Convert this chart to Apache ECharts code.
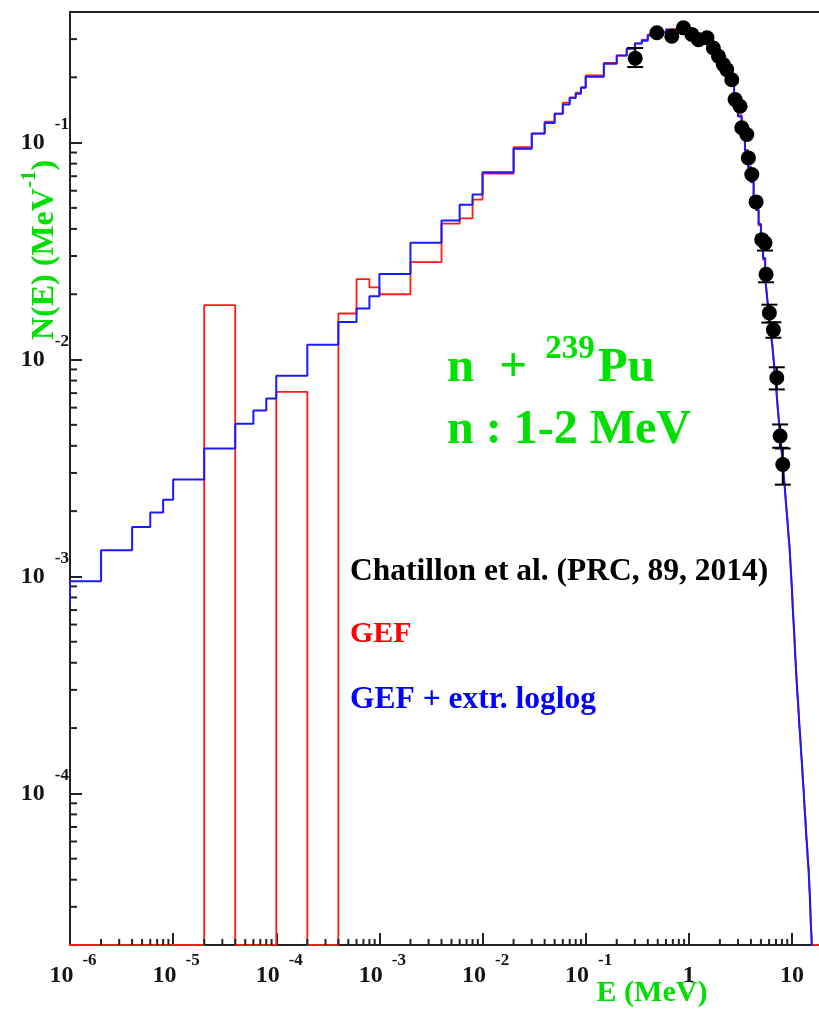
<!DOCTYPE html>
<html>
<head>
<meta charset="utf-8">
<script src="https://cdn.jsdelivr.net/npm/echarts@6/dist/echarts.min.js"></script>
<style>
  html, body { margin: 0; padding: 0; background: #ffffff; }
  #chart { width: 819px; height: 1010px; }
</style>
</head>
<body>
<div id="chart"></div>
<script>
// Axis ranges (MeV on x, MeV^-1 on y)
const X_MIN = 1e-6, X_MAX = 20;
const Y_MIN = 2e-5, Y_MAX = 0.4;

// Histogram bin edges in MeV (shared by both GEF spectra)
const binEdges = [
  8e-7, 1e-6, 2e-6, 4e-6, 6e-6, 8e-6,
  1e-5, 2e-5, 4e-5, 6e-5, 8e-5,
  1e-4, 2e-4, 4e-4, 6e-4, 8e-4,
  1e-3, 2e-3, 4e-3, 6e-3, 8e-3,
  0.01, 0.02, 0.03, 0.04, 0.05, 0.06, 0.07, 0.08, 0.09,
  0.1, 0.15, 0.2, 0.25, 0.3, 0.35, 0.4,
  0.5, 0.6, 0.7, 0.8, 0.9, 1.0, 1.1, 1.2, 1.3, 1.4, 1.5, 1.6, 1.7, 1.8, 1.9, 2.0,
  2.25, 2.5, 2.75, 3, 3.25, 3.5, 3.75, 4, 4.25, 4.5, 4.75, 5,
  5.25, 5.5, 5.75, 6, 6.25, 6.5, 6.75, 7, 7.25, 7.5, 7.75, 8,
  8.25, 8.5, 8.75, 9, 9.25, 9.5, 9.75, 10, 10.25, 10.5, 10.75, 11,
  11.25, 11.5, 11.75, 12, 12.25, 12.5, 12.75, 13, 13.25, 13.5, 13.75, 14,
  14.25, 14.5, 14.75, 15, 15.25, 15.5, 15.75, 16,
  20
];

// GEF spectrum (red); empty bins are 0
const gefValues = [
  0, 0, 0, 0, 0, 0,
  0, 1.78e-2, 0, 0, 0,
  7.1e-3, 0, 1.63e-2, 2.35e-2, 2.15e-2,
  2.0e-2, 2.81e-2, 4.23e-2, 4.47e-2, 5.46e-2,
  7.19e-2, 9.53e-2, 0.110, 0.125, 0.136, 0.153, 0.161, 0.170, 0.180,
  0.204, 0.233, 0.252, 0.272, 0.287, 0.298,
  0.315, 0.324, 0.333, 0.336, 0.340, 0.336, 0.332, 0.329, 0.316, 0.312, 0.298, 0.292, 0.277, 0.269, 0.254, 0.246,
  0.236, 0.211, 0.187, 0.155, 0.134, 0.108, 0.0925, 0.0765,
  0.0665, 0.0558, 0.0495, 0.0415, 0.0368, 0.0288, 0.0243, 0.0189,
  0.0164, 0.0130, 0.0114, 0.0090, 0.00772, 0.00605, 0.00518, 0.00421,
  0.00371, 0.00301, 0.00266, 0.00214, 0.00190, 0.00153, 0.00137, 0.00105,
  0.00089, 0.00066, 0.00057, 0.00043, 0.000366, 0.000291, 0.000262, 0.000208,
  0.000190, 0.000153, 0.000141, 0.000114, 0.000105, 0.000084, 0.000078, 0.000063,
  0.000059, 0.000048, 0.000046, 0.000036, 0.000033, 0.000024, 0.000022, 0.000016,
  0
];

// GEF + log-log extrapolation (blue); null = no bin drawn
const gefLoglogValues = [
  7.4e-4, 9.5e-4, 1.32e-3, 1.69e-3, 1.97e-3, 2.26e-3,
  2.80e-3, 3.89e-3, 5.06e-3, 5.82e-3, 6.61e-3,
  8.41e-3, 1.17e-2, 1.49e-2, 1.72e-2, 1.96e-2,
  2.48e-2, 3.45e-2, 4.37e-2, 5.17e-2, 5.76e-2,
  7.3e-2, 9.38e-2, 0.110, 0.123, 0.136, 0.150, 0.161, 0.168, 0.179,
  0.201, 0.231, 0.252, 0.271, 0.286, 0.295,
  0.312, 0.322, 0.330, 0.335, 0.338, 0.338, 0.334, 0.327, 0.318, 0.310, 0.300, 0.290, 0.279, 0.267, 0.256, 0.244,
  0.234, 0.213, 0.185, 0.157, 0.132, 0.110, 0.0914, 0.0773,
  0.0656, 0.0566, 0.0489, 0.0422, 0.0362, 0.0294, 0.0238, 0.0193,
  0.0160, 0.0133, 0.0111, 0.0092, 0.00755, 0.00618, 0.00507, 0.00429,
  0.00363, 0.00308, 0.00260, 0.00219, 0.00185, 0.00157, 0.00133, 0.00108,
  0.00086, 0.00068, 0.00055, 0.00044, 0.000354, 0.000299, 0.000253, 0.000214,
  0.000183, 0.000158, 0.000136, 0.000118, 0.000101, 0.000087, 0.000075, 0.000065,
  0.000057, 0.000050, 0.000044, 0.000038, 0.000031, 0.000025, 0.000021, 0.000017,
  null
];

// Chatillon et al. (PRC 89, 2014) measured points
const dataE = [0.302, 0.49, 0.684, 0.887, 1.07, 1.24, 1.50, 1.73, 1.94, 2.16, 2.33, 2.61, 2.81, 3.14,
  3.26, 3.65, 3.78, 4.08, 4.49, 5.10, 5.48, 5.61, 6.04, 6.61, 7.13, 7.68, 8.15];
const dataN = [0.245, 0.321, 0.309, 0.338, 0.315, 0.298, 0.304, 0.273, 0.250, 0.229, 0.217, 0.195, 0.158, 0.147,
  0.117, 0.109, 0.0850, 0.0713, 0.0533, 0.0357, 0.0345, 0.0247, 0.0164, 0.0137, 0.00824, 0.00444, 0.00328];
const dataErrLo = [0.223, 0.315, 0.303, 0.332, 0.309, 0.292, 0.298, 0.268, 0.245, 0.224, 0.212, 0.190, 0.154, 0.143,
  0.113, 0.105, 0.0815, 0.0680, 0.0505, 0.0330, 0.0318, 0.0227, 0.0148, 0.0126, 0.00728, 0.00392, 0.00265];
const dataErrHi = [0.273, 0.327, 0.315, 0.344, 0.321, 0.304, 0.310, 0.278, 0.255, 0.234, 0.222, 0.200, 0.162, 0.151,
  0.121, 0.113, 0.0885, 0.0746, 0.0561, 0.0384, 0.0372, 0.0265, 0.0179, 0.01485, 0.00921, 0.00502, 0.00389];

// Minor tick mantissas and the decades they cover
const minorMantissas = [2, 3, 4, 5, 6, 7, 8, 9];
const xDecades = [-6, -5, -4, -3, -2, -1, 0, 1];
const yDecades = [-5, -4, -3, -2, -1];

const SERIF = '"Liberation Serif", "Times New Roman", serif';
const GREEN = '#00e000';
const INK = '#141414';
const MARKER = 15;

function minorTicks(decades, lo, hi) {
  const out = [];
  decades.forEach(d => minorMantissas.forEach(m => {
    const v = m * Math.pow(10, d);
    if (v > lo * 1.0001 && v < hi * 0.9999) out.push(v);
  }));
  return out;
}

// Step outline of a histogram; empty bins rest on the frame floor
function stepOutline(edges, values) {
  const pts = [];
  for (let i = 0; i < values.length; i++) {
    if (values[i] === null) continue;
    const v = values[i] > 0 ? values[i] : Y_MIN;
    pts.push([edges[i], v], [edges[i + 1], v]);
  }
  return pts;
}

function decadeLabel(v) {
  const lg = Math.log10(v);
  const e = Math.round(lg);
  if (Math.abs(lg - e) > 1e-6) return '';
  if (e === 0) return '{c|1}';
  if (e === 1) return '{c|10}';
  return '{b|10}{e|' + e + '}';
}

const labelRich = {
  b: { fontFamily: SERIF, fontWeight: 'bold', fontSize: 24, color: INK, lineHeight: 36, verticalAlign: 'bottom', padding: [0, 0, 0, 6] },
  e: { fontFamily: SERIF, fontWeight: 'bold', fontSize: 17, color: INK, lineHeight: 17, verticalAlign: 'top', padding: [0, 0, 0, 9] },
  c: { fontFamily: SERIF, fontWeight: 'bold', fontSize: 24, color: INK, lineHeight: 36, verticalAlign: 'bottom' }
};
const yLabelRich = {
  b: { fontFamily: SERIF, fontWeight: 'bold', fontSize: 24, color: INK, lineHeight: 38, verticalAlign: 'bottom' },
  e: { fontFamily: SERIF, fontWeight: 'bold', fontSize: 17, color: INK, lineHeight: 17, verticalAlign: 'top', padding: [0, 0, 0, 10] },
  c: { fontFamily: SERIF, fontWeight: 'bold', fontSize: 24, color: INK, lineHeight: 38, verticalAlign: 'bottom' }
};

const axisLineStyle = { color: '#222', width: 2 };

const chart = echarts.init(document.getElementById('chart'), null, { renderer: 'canvas' });

chart.setOption({
  animation: false,
  backgroundColor: '#ffffff',
  grid: {
    left: 70, top: 12, width: 753, height: 933,
    outerBoundsMode: 'none', containLabel: false,
    show: true, borderColor: '#222', borderWidth: 2, backgroundColor: 'transparent'
  },
  xAxis: {
    type: 'log', logBase: 10, min: X_MIN, max: X_MAX,
    axisLine: { show: true, lineStyle: axisLineStyle },
    axisTick: { show: true, inside: true, length: 12, lineStyle: axisLineStyle },
    splitLine: { show: false },
    axisLabel: { show: true, margin: 7, formatter: decadeLabel, rich: labelRich, showMinLabel: true, showMaxLabel: true }
  },
  yAxis: {
    type: 'log', logBase: 10, min: Y_MIN, max: Y_MAX,
    axisLine: { show: true, lineStyle: axisLineStyle },
    axisTick: { show: true, inside: true, length: 12, lineStyle: axisLineStyle },
    splitLine: { show: false },
    axisLabel: { show: true, margin: 1, formatter: decadeLabel, rich: yLabelRich, padding: [0, 0, 14, 0] }
  },
  series: [
    {
      name: 'GEF', type: 'line', data: stepOutline(binEdges, gefValues),
      showSymbol: false, symbol: 'none', clip: true, z: 2,
      lineStyle: { color: '#ff1a1a', width: 1.8 }
    },
    {
      name: 'GEF + extr. loglog', type: 'line', data: stepOutline(binEdges, gefLoglogValues),
      showSymbol: false, symbol: 'none', clip: true, z: 3,
      lineStyle: { color: '#1a1aff', width: 2 }
    },
    {
      // error bars are only drawn where they reach beyond the marker
      name: 'errors', type: 'custom', z: 4, clip: false,
      data: dataE.map((e, i) => [e, dataN[i], dataErrLo[i], dataErrHi[i]]),
      encode: { x: 0, y: [1, 2, 3] },
      renderItem: function (params, api) {
        const c = api.coord([api.value(0), api.value(1)]);
        const lo = api.coord([api.value(0), api.value(2)]);
        const hi = api.coord([api.value(0), api.value(3)]);
        const r = MARKER / 2;
        const w = 8;
        const st = { stroke: '#000', lineWidth: 2 };
        const kids = [];
        if (lo[1] - c[1] > r) {
          kids.push({ type: 'line', shape: { x1: c[0], y1: c[1], x2: lo[0], y2: lo[1] }, style: st });
          kids.push({ type: 'line', shape: { x1: lo[0] - w, y1: lo[1], x2: lo[0] + w, y2: lo[1] }, style: st });
        }
        if (c[1] - hi[1] > r) {
          kids.push({ type: 'line', shape: { x1: c[0], y1: c[1], x2: hi[0], y2: hi[1] }, style: st });
          kids.push({ type: 'line', shape: { x1: hi[0] - w, y1: hi[1], x2: hi[0] + w, y2: hi[1] }, style: st });
        }
        return { type: 'group', children: kids };
      }
    },
    {
      name: 'Chatillon et al. (PRC, 89, 2014)', type: 'scatter', z: 5,
      data: dataE.map((e, i) => [e, dataN[i]]),
      symbol: 'circle', symbolSize: MARKER,
      itemStyle: { color: '#000', opacity: 1 }
    },
    {
      name: 'xMinor', type: 'custom', z: 6, clip: false, silent: true,
      data: minorTicks(xDecades, X_MIN, X_MAX).map(v => [v, Y_MIN]),
      encode: { x: 0, y: 1 },
      renderItem: function (params, api) {
        const p = api.coord([api.value(0), Y_MIN]);
        return { type: 'line', shape: { x1: p[0], y1: p[1], x2: p[0], y2: p[1] - 6 }, style: { stroke: '#222', lineWidth: 2 } };
      }
    },
    {
      name: 'yMinor', type: 'custom', z: 6, clip: false, silent: true,
      data: minorTicks(yDecades, Y_MIN, Y_MAX).map(v => [X_MIN, v]),
      encode: { x: 0, y: 1 },
      renderItem: function (params, api) {
        const p = api.coord([X_MIN, api.value(1)]);
        return { type: 'line', shape: { x1: p[0], y1: p[1], x2: p[0] + 7, y2: p[1] }, style: { stroke: '#222', lineWidth: 2 } };
      }
    }
  ],
  graphic: [
    {
      type: 'text', x: 40, y: 250, rotation: Math.PI / 2,
      style: {
        text: '{a|N(E) (MeV}{s|-1}{a|)}', align: 'center', verticalAlign: 'middle',
        rich: {
          a: { fontFamily: SERIF, fontWeight: 'bold', fontSize: 32, fill: GREEN, lineHeight: 42, verticalAlign: 'bottom' },
          s: { fontFamily: SERIF, fontWeight: 'bold', fontSize: 21, fill: GREEN, lineHeight: 21, verticalAlign: 'top' }
        }
      }
    },
    {
      type: 'text', x: 652, y: 993,
      style: { text: 'E (MeV)', fontFamily: SERIF, fontWeight: 'bold', fontSize: 30, fill: GREEN, align: 'center', verticalAlign: 'middle' }
    },
    {
      type: 'text', x: 447, y: 333,
      style: {
        text: '{t|n}{g|+}{s|239}{t|Pu}', align: 'left', verticalAlign: 'top',
        rich: {
          t: { fontFamily: SERIF, fontWeight: 'bold', fontSize: 49, fill: GREEN, lineHeight: 60, verticalAlign: 'bottom' },
          g: { fontFamily: SERIF, fontWeight: 'bold', fontSize: 49, fill: GREEN, lineHeight: 60, verticalAlign: 'bottom', padding: [0, 0, 0, 25] },
          s: { fontFamily: SERIF, fontWeight: 'bold', fontSize: 33, fill: GREEN, lineHeight: 33, verticalAlign: 'top', padding: [0, 3, 0, 18] }
        }
      }
    },
    {
      type: 'text', x: 447, y: 431,
      style: { text: 'n : 1-2 MeV', fontFamily: SERIF, fontWeight: 'bold', fontSize: 48, fill: GREEN, align: 'left', verticalAlign: 'middle' }
    },
    {
      type: 'text', x: 350, y: 572,
      style: { text: 'Chatillon et al. (PRC, 89, 2014)', fontFamily: SERIF, fontWeight: 'bold', fontSize: 31.5, fill: '#000', align: 'left', verticalAlign: 'middle' }
    },
    {
      type: 'text', x: 350, y: 634,
      style: { text: 'GEF', fontFamily: SERIF, fontWeight: 'bold', fontSize: 30, fill: '#ff0000', align: 'left', verticalAlign: 'middle' }
    },
    {
      type: 'text', x: 350, y: 700,
      style: { text: 'GEF + extr. loglog', fontFamily: SERIF, fontWeight: 'bold', fontSize: 31.5, fill: '#0000ff', align: 'left', verticalAlign: 'middle' }
    }
  ]
});
</script>
</body>
</html>
